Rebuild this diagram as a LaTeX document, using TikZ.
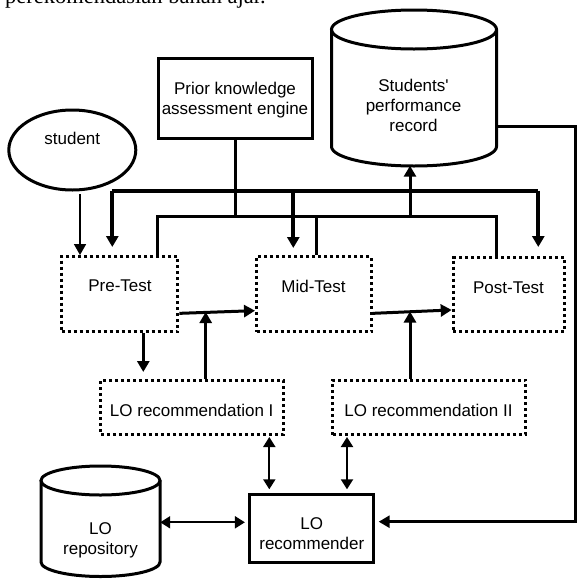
\documentclass[tikz,border=0pt]{standalone}
\usepackage{fontspec}
\setmainfont{Liberation Sans}[Ligatures=TeXOff]
\newfontfamily\bodyserif{Liberation Serif}
\usetikzlibrary{arrows.meta,shapes.geometric,fit}

% outline of a drum (database) shape: centre x, x radius, top y, bottom y, y radius
\newcommand\drawdrum[5]{%
  \draw[drumline] (#1,#3) ellipse[x radius=#2, y radius=#5];
  \draw[drumline] (#1-#2,#3) -- (#1-#2,#4)
    arc[start angle=180, end angle=0, x radius=#2, y radius=#5] -- (#1+#2,#3);
}

\begin{document}
\begin{tikzpicture}[x=1pt, y=-1pt,
  lbl/.style={font=\fontsize{17}{20}\selectfont, align=center, inner sep=0pt},
  solidbox/.style={draw, line width=3pt, inner sep=0pt},
  dotbox/.style={draw, line width=3pt, dash pattern=on 3pt off 3pt, inner sep=0pt},
  area/.style={inner sep=0pt},
  drumline/.style={line width=3pt},
  tipend/.style={-{Triangle[length=11pt, width=12pt]}},
  bothends/.style={{Triangle[length=10pt, width=12pt]}-{Triangle[length=10pt, width=12pt]}},
  busline/.style={line width=4pt},
  mainline/.style={line width=3pt},
  thinline/.style={line width=1.8pt},
  pairline/.style={line width=2pt}
]
\path[use as bounding box, fill=white] (0,0) rectangle (577,579);

% running text of the page above the figure
\node[anchor=base west, inner sep=0pt, font=\bodyserif\fontsize{22.5}{27}\selectfont]
  (pagetext) at (5,3.5) {perekomendasian bahan ajar.};

% ---- stores (drums) ----
\drawdrum{414}{82.5}{29.5}{146.5}{19.5}
\node[area, fit={(331.5,10) (496.5,165.5)}] (spr) {};
\node[lbl] (sprT) at (413.5,105) {Students'\\performance\\record};

\drawdrum{100.5}{59.5}{480.5}{562}{14.5}
\node[area, fit={(41,466) (160,576.5)}] (repo) {};
\node[lbl] (repoT) at (100.5,540) {LO\\repository};

% ---- engines and actors ----
\node[solidbox, fit={(158,58) (312,138.5)}] (prior) {};
\node[lbl] (priorT) at (235,99.7) {Prior knowledge\\assessment engine};

\node[draw, ellipse, line width=3pt, inner sep=0pt,
      minimum width=127pt, minimum height=80pt] (student) at (72.3,150) {};
\node[lbl] (studentT) at (72.3,138.3) {student};

\node[solidbox, fit={(249.8,494.2) (373.8,562)}] (rec) {};
\node[lbl] (recT) at (311.8,534) {LO\\recommender};

% ---- tests ----
\node[dotbox, fit={(61.5,256.5) (177.8,331.8)}] (pre) {};
\node[lbl] (preT) at (120,286) {Pre-Test};
\node[dotbox, fit={(256.5,256.5) (371.2,331.8)}] (mid) {};
\node[lbl] (midT) at (313.5,286.7) {Mid-Test};
\node[dotbox, fit={(453.2,257.5) (564.5,331.8)}] (post) {};
\node[lbl] (postT) at (508.5,288) {Post-Test};

% ---- recommendations ----
\node[dotbox, fit={(100.8,380.5) (283.5,434.5)}] (lr1) {};
\node[lbl] (lr1T) at (191.7,410) {LO recommendation I};
\node[dotbox, fit={(332.8,380) (525.5,434.5)}] (lr2) {};
\node[lbl] (lr2T) at (428.5,410) {LO recommendation II};

% ---- reference points of the connectors ----
\coordinate (busL) at (112.3,190.7);
\coordinate (busM) at (293.3,190.7);
\coordinate (busR) at (538.3,190.7);
\coordinate (b2L) at (157,216);
\coordinate (b2M) at (316.7,216);
\coordinate (b2U) at (410,216);
\coordinate (b2R) at (496.7,216);
\coordinate (xStu) at (80,0);
\coordinate (xDown) at (143.3,0);
\coordinate (j1) at (205.7,312);
\coordinate (j2) at (410,311.5);
\coordinate (xP1) at (269.3,0);
\coordinate (xP2) at (347,0);
\coordinate (yRepo) at (0,522.3);
\coordinate (ySpr) at (0,126.7);
\coordinate (yRec) at (0,521.7);
\coordinate (xEdge) at (575.3,0);

% student enters the pre-test
\draw[thinline, tipend] ([yshift=-2.5pt]student.south -| xStu) -- (pre.north -| xStu);

% upper bus feeding the three tests
\draw[busline, tipend] (busL) -- ([yshift=8pt]busL |- pre.north);
\draw[busline] (busL) -- (busR);
\draw[busline, tipend] (busR) -- ([yshift=9pt]busR |- post.north);
\draw[busline, tipend] (busM) -- ([yshift=7pt]busM |- mid.north);

% lower bus collecting results from the tests
\draw[mainline] (prior.south) -- (prior.south |- b2L);
\draw[mainline] (pre.north -| b2L) -- (b2L) -- (b2R) -- (post.north -| b2R);
\draw[mainline] (b2M) -- (mid.north -| b2M);
\draw[mainline, tipend] (b2U) -- (spr.south -| b2U);

% test sequence
\draw[mainline, tipend] ([yshift=-19.2pt]pre.east) -- ([yshift=-16.5pt]mid.west);
\draw[mainline, tipend] ([yshift=-19.2pt]mid.east) -- ([yshift=-15.3pt]post.west);
\draw[mainline, tipend] (lr1.north -| j1) -- (j1);
\draw[mainline, tipend] (lr2.north -| j2) -- (j2);
\draw[mainline, tipend] (pre.south -| xDown) -- ([yshift=7pt]lr1.north -| xDown);

% recommender links
\draw[pairline, bothends] ([yshift=-1pt]lr1.south -| xP1) -- ([yshift=3.4pt]rec.north -| xP1);
\draw[pairline, bothends] ([yshift=-1pt]lr2.south -| xP2) -- ([yshift=3.4pt]rec.north -| xP2);
\draw[pairline, bothends] (repo.east |- yRepo) -- ([xshift=-3.4pt]rec.west |- yRepo);

% performance record feeds the recommender
\draw[mainline, tipend] (spr.east |- ySpr) -- (xEdge |- ySpr) -- (xEdge |- yRec)
  -- ([xshift=3.4pt]rec.east |- yRec);
\end{tikzpicture}
\end{document}
